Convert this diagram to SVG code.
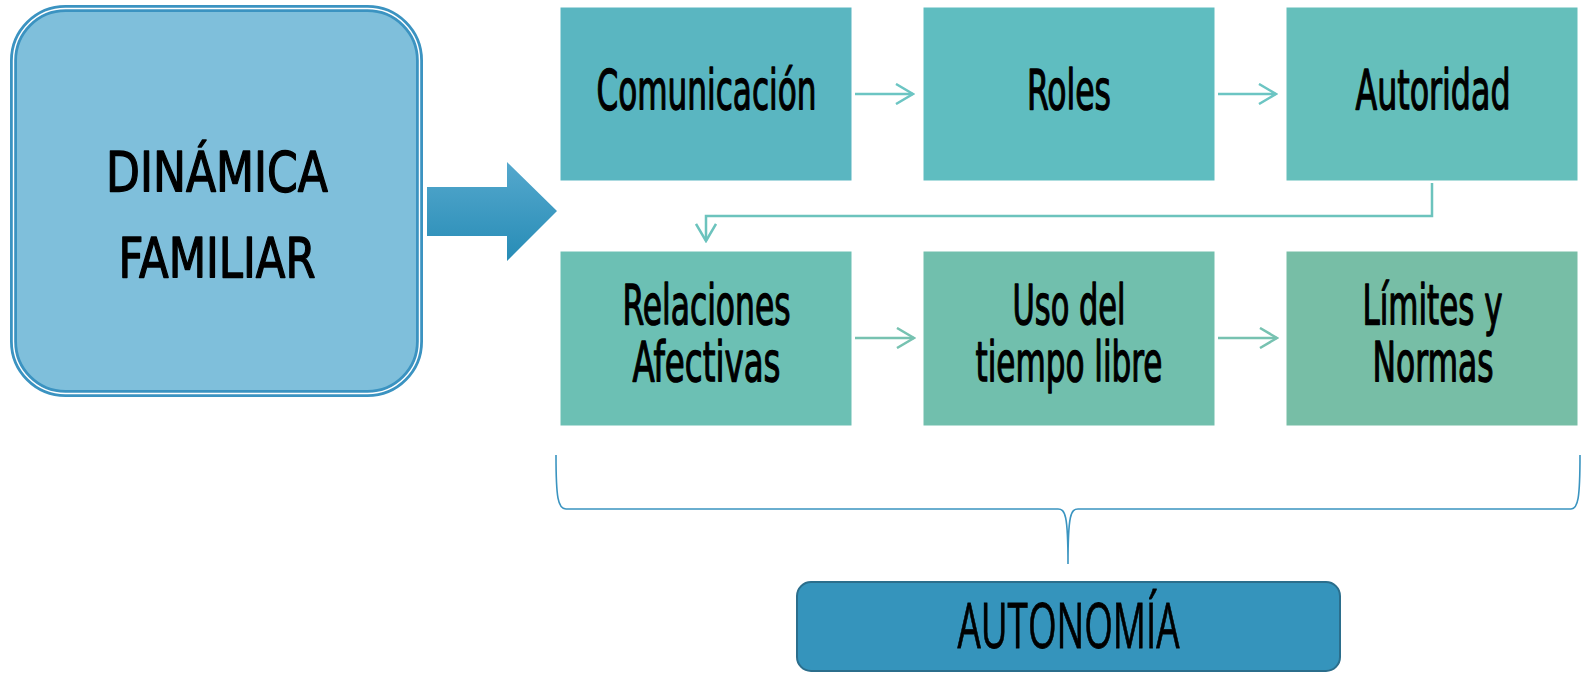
<svg xmlns="http://www.w3.org/2000/svg" width="1585" height="674" viewBox="0 0 1585 674">
<defs>
<linearGradient id="bigArrow" x1="0" y1="0" x2="0" y2="1">
<stop offset="0" stop-color="#55a8cd"/>
<stop offset="1" stop-color="#278cb6"/>
</linearGradient>
<marker id="chev" viewBox="0 0 20 22" refX="18" refY="11" markerWidth="20" markerHeight="22" markerUnits="userSpaceOnUse" orient="auto">
<path d="M1 1 L18 11 L1 21" fill="none" stroke="context-stroke" stroke-width="2.5"/>
</marker>
</defs>
<style>
.lbl{font-family:"DejaVu Sans Condensed","DejaVu Sans","Liberation Sans",sans-serif;font-stretch:condensed;font-size:55px;fill:#000;stroke:#000;stroke-width:1.3;stroke-linejoin:round;text-anchor:middle}
.box{stroke:#ffffff;stroke-width:1}
.conn{fill:none;stroke-width:2.5}
</style>
<rect width="1585" height="674" fill="#ffffff"/>

<g id="dinamica-familiar">
<rect x="13.5" y="8.5" width="406" height="385" rx="52" fill="#7fbfdb" stroke="#3b93c1" stroke-width="7"/>
<rect x="13.5" y="8.5" width="406" height="385" rx="52" fill="none" stroke="#ffffff" stroke-width="1.4"/>
<text class="lbl" x="217" y="191" font-size="70" textLength="222" lengthAdjust="spacingAndGlyphs">DINÁMICA</text>
<text class="lbl" x="217" y="277" font-size="70" textLength="197" lengthAdjust="spacingAndGlyphs">FAMILIAR</text>
</g>

<g id="big-arrow">
<path d="M427 187 H507 V162 L557 211 L507 261 V236 H427 Z" fill="url(#bigArrow)"/>
</g>

<g id="comunicacion">
<rect class="box" x="560" y="7" width="292" height="174" fill="#5ab6c1"/>
<text class="lbl" x="706.5" y="109" textLength="220" lengthAdjust="spacingAndGlyphs">Comunicación</text>
</g>
<g id="roles">
<rect class="box" x="923" y="7" width="292" height="174" fill="#5fbdc0"/>
<text class="lbl" x="1069" y="109" textLength="84" lengthAdjust="spacingAndGlyphs">Roles</text>
</g>
<g id="autoridad">
<rect class="box" x="1286" y="7" width="292" height="174" fill="#65bfbb"/>
<text class="lbl" x="1433" y="109" textLength="155" lengthAdjust="spacingAndGlyphs">Autoridad</text>
</g>
<g id="relaciones-afectivas">
<rect class="box" x="560" y="251" width="292" height="175" fill="#6cc0b4"/>
<text class="lbl" x="706.5" y="324" textLength="168" lengthAdjust="spacingAndGlyphs">Relaciones</text>
<text class="lbl" x="706.5" y="381" textLength="148" lengthAdjust="spacingAndGlyphs">Afectivas</text>
</g>
<g id="uso-tiempo-libre">
<rect class="box" x="923" y="251" width="292" height="175" fill="#71bfad"/>
<text class="lbl" x="1069" y="324" textLength="113" lengthAdjust="spacingAndGlyphs">Uso del</text>
<text class="lbl" x="1069" y="381" textLength="187" lengthAdjust="spacingAndGlyphs">tiempo libre</text>
</g>
<g id="limites-normas">
<rect class="box" x="1286" y="251" width="292" height="175" fill="#77bea6"/>
<text class="lbl" x="1432.5" y="324" textLength="140" lengthAdjust="spacingAndGlyphs">Límites y</text>
<text class="lbl" x="1433" y="381" textLength="121" lengthAdjust="spacingAndGlyphs">Normas</text>
</g>

<g id="autonomia">
<rect x="797" y="582" width="543" height="89" rx="14" fill="#3594bc" stroke="#2b6e8c" stroke-width="2"/>
<text x="1068.5" y="648" font-family="'Open Sans','Liberation Sans',sans-serif" font-size="63" fill="#000" stroke="#000" stroke-width="0.8" text-anchor="middle" textLength="222" lengthAdjust="spacingAndGlyphs">AUTONOMÍA</text>
</g>

<g id="connectors">
<path class="conn" d="M855 94 H913" stroke="#6cc5c3" marker-end="url(#chev)"/>
<path class="conn" d="M1218 94 H1276" stroke="#6cc5c3" marker-end="url(#chev)"/>
<path class="conn" d="M1432 183 V216 H706 V241" stroke="#6cc3bd" marker-end="url(#chev)"/>
<path class="conn" d="M855 338 H914" stroke="#77c2b1" marker-end="url(#chev)"/>
<path class="conn" d="M1218 338 H1277" stroke="#77c2b1" marker-end="url(#chev)"/>
<path d="M556 455 C556 498 558 509 566 509 H1058 C1065 509 1068 514 1068 564 C1068 514 1071 509 1078 509 H1571 C1578 509 1580 498 1580 455" fill="none" stroke="#3a94c0" stroke-width="1.6"/>
</g>
</svg>
